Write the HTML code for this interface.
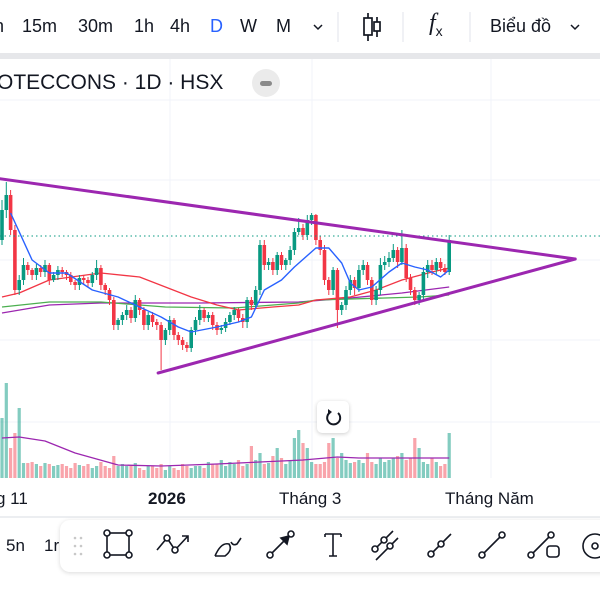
<!DOCTYPE html>
<html><head><meta charset="utf-8">
<style>
html,body{margin:0;padding:0;width:600px;height:600px;overflow:hidden;background:#fff;font-family:"Liberation Sans",sans-serif;color:#131722}
.abs{position:absolute}
.tb{position:absolute;top:15px;font-size:18px;line-height:22px;color:#131722}
</style></head>
<body>
<div class="abs" style="left:0;top:0;width:600px;height:54px;background:#fff"></div>
<div class="abs" style="left:0;top:53px;width:600px;height:6px;background:#e6e7ea"></div>
<span class="tb" style="left:-6px">n</span>
<span class="tb" style="left:22px">15m</span>
<span class="tb" style="left:78px">30m</span>
<span class="tb" style="left:134px">1h</span>
<span class="tb" style="left:170px">4h</span>
<span class="tb" style="left:210px;color:#2962ff">D</span>
<span class="tb" style="left:240px">W</span>
<span class="tb" style="left:276px">M</span>
<svg class="abs" style="left:0;top:0" width="600" height="54">
 <path d="M314 25 l4 4 l4 -4" fill="none" stroke="#131722" stroke-width="1.5"/>
 <line x1="338" y1="12" x2="338" y2="42" stroke="#e0e3eb"/>
 <g stroke="#131722" stroke-width="1.7" fill="none">
  <line x1="368" y1="13" x2="368" y2="41"/><rect x="364" y="18" width="8" height="17" fill="#fff"/>
  <line x1="377" y1="17" x2="377" y2="37"/><rect x="374" y="22" width="6" height="9" fill="#fff"/>
 </g>
 <line x1="403" y1="12" x2="403" y2="42" stroke="#e0e3eb"/>
 <line x1="470" y1="12" x2="470" y2="42" stroke="#e0e3eb"/>
 <path d="M571 25 l4 4 l4 -4" fill="none" stroke="#131722" stroke-width="1.5"/>
</svg>
<span class="abs" style="left:429px;top:10px;font-size:24px;font-family:'Liberation Serif',serif;font-style:italic">f<sub style="font-size:14px;font-style:normal;font-family:'Liberation Sans'">x</sub></span>
<span class="tb" style="left:490px">Biểu đồ</span>

<svg id="chart" class="abs" style="left:0;top:59px" width="600" height="460" viewBox="0 59 600 460"></svg>

<div class="abs" style="left:-3px;top:70px;font-size:21px;line-height:26px">OTECCONS · 1D · HSX</div>
<div class="abs" style="left:252px;top:69px;width:28px;height:28px;border-radius:14px;background:#ebebeb"><div style="position:absolute;left:8px;top:12px;width:12px;height:5px;border-radius:3px;background:#8a8a8a"></div></div>

<div class="abs" style="left:317px;top:401px;width:32px;height:32px;border-radius:5px;background:#fff;box-shadow:0 1px 4px rgba(0,0,0,0.2)">
<svg width="32" height="32"><path d="M21 12 A6.5 6.5 0 1 1 13 11.5" fill="none" stroke="#131722" stroke-width="2"/><path d="M11 8 l4 3 -4 3z" fill="#131722"/></svg></div>

<div class="abs" style="left:-4px;top:489px;font-size:17px">g 11</div>
<div class="abs" style="left:148px;top:489px;font-size:17px;font-weight:bold">2026</div>
<div class="abs" style="left:279px;top:489px;font-size:17px">Tháng 3</div>
<div class="abs" style="left:445px;top:489px;font-size:17px">Tháng Năm</div>
<div class="abs" style="left:0;top:516px;width:600px;height:2px;background:#eceef1"></div>
<div class="abs" style="left:6px;top:536px;font-size:17px">5n</div>
<div class="abs" style="left:44px;top:536px;font-size:17px">1r</div>
<div class="abs" style="left:60px;top:520px;width:560px;height:52px;border-radius:10px;background:#fff;box-shadow:0 1px 5px rgba(0,0,0,0.15)">
<svg width="560" height="52" stroke="#131722" stroke-width="1.6" fill="none">
 <g transform="translate(9,0)" fill="#c8c8c8" stroke="none"><circle cx="6" cy="18" r="1.3"/><circle cx="12" cy="18" r="1.3"/><circle cx="6" cy="26" r="1.3"/><circle cx="12" cy="26" r="1.3"/><circle cx="6" cy="34" r="1.3"/><circle cx="12" cy="34" r="1.3"/></g>
 <g transform="translate(13,0)"><rect x="34" y="13" width="22" height="22"/><circle cx="34" cy="13" r="3" fill="#fff"/><circle cx="56" cy="13" r="3" fill="#fff"/><circle cx="34" cy="35" r="3" fill="#fff"/><circle cx="56" cy="35" r="3" fill="#fff"/></g>
 <g transform="translate(22,0)"><path d="M75 30 L85 18 L93 30 L106 16 M100 16 h6 v6"/><circle cx="85" cy="18" r="3" fill="#fff"/><circle cx="93" cy="30" r="3" fill="#fff"/></g>
 <g transform="translate(31,0)"><path d="M124 36 L134 36 Q142 30 138 24 Q130 22 124 36 M140 22 q2 4 6 2 l4 -6"/></g>
 <g transform="translate(37,0)"><path d="M173 35 L193 15"/><path d="M192 16 l-8 2 l6 6z" fill="#131722"/><circle cx="173" cy="35" r="3" fill="#fff"/><circle cx="194" cy="14" r="3" fill="#fff"/></g>
 <g transform="translate(44,0)"><path d="M221 14 h16 M229 14 v22 M225 36 h8 M221 14 v3 M237 14 v3"/></g>
 <g transform="translate(48,0)"><path d="M265 31 L285 11 M268 40 L290 18"/><circle cx="267" cy="29" r="3" fill="#fff"/><circle cx="276" cy="20" r="3" fill="#fff"/><circle cx="282" cy="26" r="3" fill="#fff"/></g>
 <g transform="translate(57,0)"><path d="M312 36 L334 14"/><circle cx="314" cy="34" r="3" fill="#fff"/><circle cx="324" cy="24" r="3" fill="#fff"/></g>
 <g transform="translate(63,0)"><path d="M359 35 L379 15"/><circle cx="359" cy="35" r="3" fill="#fff"/><circle cx="379" cy="15" r="3" fill="#fff"/></g>
 <g transform="translate(66,0)"><path d="M405 35 L425 15"/><circle cx="405" cy="35" r="3" fill="#fff"/><circle cx="425" cy="15" r="3" fill="#fff"/><rect x="421" y="26" width="12" height="11" rx="3"/></g>
 <g transform="translate(63,0)"><circle cx="472" cy="26" r="12"/><circle cx="472" cy="26" r="3"/></g>
</svg></div>

<script>
const closes=[270,285,250,190,200,215,210,205,212,208,215,200,205,210,208,205,198,195,202,200,197,205,212,195,190,180,155,160,165,170,162,180,170,155,165,158,155,140,150,160,145,140,135,132,150,160,170,162,165,155,150,152,158,165,170,162,158,180,175,190,235,215,218,210,225,215,220,230,248,252,245,260,265,240,230,200,190,210,170,175,190,200,192,210,215,200,180,190,215,218,222,230,218,232,202,190,180,185,208,215,210,218,212,208,240];
const opens=[240,270,285,250,190,200,215,210,205,212,208,215,200,205,210,208,205,198,195,202,200,197,205,212,195,190,180,155,160,165,170,162,180,170,155,165,158,155,140,150,160,145,140,135,132,150,160,170,162,165,155,150,152,158,165,170,162,158,180,175,190,235,215,218,210,225,215,220,230,248,252,245,260,265,240,230,200,190,210,170,175,190,200,192,210,215,200,180,190,215,218,222,230,218,232,202,190,180,185,208,215,210,218,212,208];
const highs=[280,298,290,255,205,222,218,212,216,215,220,217,208,214,213,210,208,200,205,205,203,208,220,215,197,192,183,162,168,175,173,185,182,173,168,168,161,158,152,164,162,148,143,138,153,163,175,172,168,168,158,155,162,168,173,172,166,183,183,194,240,240,222,222,228,228,222,234,252,262,256,265,267,266,244,235,203,213,212,178,194,205,203,215,220,218,203,194,222,224,228,236,233,250,236,206,193,188,213,220,220,222,222,216,245];
const lows=[235,262,245,185,185,195,205,200,200,203,203,195,198,200,203,200,195,190,190,195,193,193,200,190,185,175,150,150,155,160,157,158,165,150,150,153,150,110,135,145,140,135,130,128,128,145,155,158,158,150,145,146,148,155,160,158,152,152,170,172,185,210,210,205,205,210,210,215,225,245,240,240,255,235,225,195,185,185,152,165,170,185,185,188,205,195,175,175,185,210,213,218,212,215,198,185,175,175,180,202,205,205,208,205,205];
const volumes=[60,95,30,45,70,15,15,16,14,12,15,14,12,13,14,12,10,15,13,12,14,10,12,16,12,10,22,12,14,12,12,15,10,8,12,12,10,14,8,12,10,8,14,12,10,12,12,10,16,14,14,18,12,16,14,18,12,14,32,18,25,14,15,22,30,20,14,18,40,48,35,30,16,14,14,16,35,40,20,25,18,15,16,18,15,25,16,14,20,16,18,20,22,25,18,20,40,30,16,14,20,16,12,14,45];
const ma1Idx=[2,7,11,15,21,27,32,37,41,44,50,55,58,61,65,68,73,76,79,81,83,86,90,93,96,99,102,104];
const ma1Val=[267,220,207,207,190,183,173,163,153,148,153,158,163,190,200,213,232,232,217,197,190,193,208,217,213,210,203,210];
const ma2Idx=[0,4,11,23,32,38,44,50,55,63,69,73,81,87,93,100,104];
const ma2Val=[183,187,200,207,203,193,183,175,170,173,175,180,183,190,200,208,212];
const ma3Idx=[0,11,23,38,54,69,73,89,97,104];
const ma3Val=[173,178,178,173,172,177,180,182,183,185];
const ma4Idx=[0,11,23,46,69,81,93,104];
const ma4Val=[167,175,177,177,178,182,187,193];
const volMaIdx=[0,4,10,17,27,37,50,60,70,78,83,95,104];
const volMaVal=[40,41,37,25,13,12,14,16,18,21,20,20,20];
const trendTop=[[-35,322],[133.3,221]];
const trendBottom=[[36.3,107],[133.3,221]];
const lastLevel=244;

const svg=document.getElementById('chart');
const NS='http://www.w3.org/2000/svg';
const xOf=i=>2+i*4.3;
const yOf=p=>480-p;
const vY=v=>478-v;
function mk(tag,attrs){const e=document.createElementNS(NS,tag);for(const k in attrs)e.setAttribute(k,attrs[k]);svg.appendChild(e);return e;}

[100,180,260,340,422].forEach(y=>{const g=mk('line',{x1:0,x2:600,y1:y,y2:y,stroke:'#f0f3fa','stroke-width':1});

});
[170,312,491].forEach(x=>{const g=mk('line',{x1:x,x2:x,y1:59,y2:478,stroke:'#f0f3fa','stroke-width':1});

});

volumes.forEach((v,i)=>{const up=closes[i]>=opens[i];
const r=mk('rect',{x:xOf(i)-1.6,y:vY(v),width:3.2,height:v,fill:up?'rgba(8,153,129,0.5)':'rgba(242,54,69,0.45)'});

});
function line(idx,val,fy,color,w,name){const d=idx.map((i,k)=>(k?'L':'M')+xOf(i).toFixed(1)+' '+fy(val[k]).toFixed(1)).join(' ');
const p=mk('path',{d:d,fill:'none',stroke:color,'stroke-width':w,'stroke-linejoin':'round'});

}
line(volMaIdx,volMaVal,vY,'#9c27b0',1.3,'volume-ma-line');

line(ma4Idx,ma4Val,yOf,'#9c27b0',1.3,'ma-purple-line');
line(ma3Idx,ma3Val,yOf,'#4caf50',1.3,'ma-green-line');
line(ma2Idx,ma2Val,yOf,'#f23645',1.3,'ma-red-line');

closes.forEach((c,i)=>{const o=opens[i];const up=c>=o;const col=up?'#089981':'#f23645';const x=xOf(i);
const w=mk('line',{x1:x,x2:x,y1:yOf(highs[i]),y2:yOf(lows[i]),stroke:col,'stroke-width':1});


const b=mk('rect',{x:x-1.8,y:yOf(Math.max(o,c)),width:3.6,height:Math.max(1,Math.abs(c-o)),fill:col});

});
line(ma1Idx,ma1Val,yOf,'#2962ff',1.4,'ma-blue-line');

const lp=mk('line',{x1:0,x2:600,y1:yOf(lastLevel),y2:yOf(lastLevel),stroke:'#089981','stroke-width':1,'stroke-dasharray':'1.5 3'});



[[trendTop,'triangle-upper-line'],[trendBottom,'triangle-lower-line']].forEach(([t,n])=>{
const l=mk('line',{x1:xOf(t[0][0]),y1:yOf(t[0][1]),x2:xOf(t[1][0]),y2:yOf(t[1][1]),stroke:'#9c27b0','stroke-width':3,'stroke-linecap':'round'});

});
</script>
</body></html>
